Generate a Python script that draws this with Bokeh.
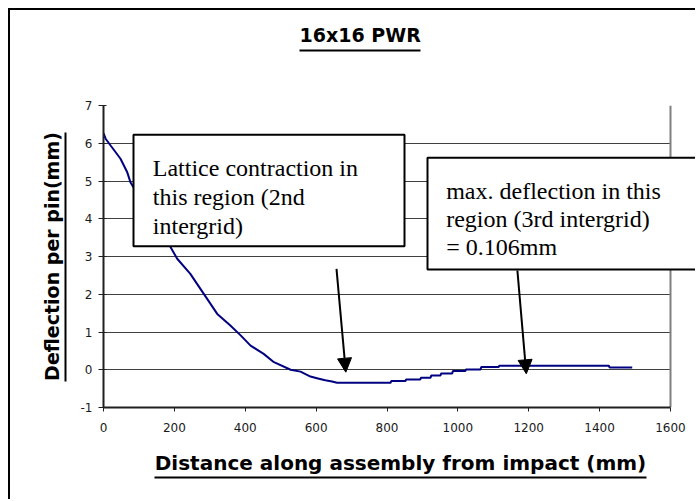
from bokeh.plotting import figure
from bokeh.models import (Range1d, BoxAnnotation, Label, Arrow, NormalHead, FixedTicker,
                          LinearAxis, Grid)
from bokeh.embed import file_html
from bokeh.resources import INLINE

# ---- data ----
distance_mm = [0, 6, 20, 48, 67, 76, 84, 110, 135, 160, 189, 208, 245, 283, 321, 358, 387,
               415, 452, 481, 528, 556, 584, 605, 626, 645, 659,
               810, 812, 852, 854, 894, 896, 923, 925, 951, 953, 984, 986, 1021, 1023,
               1064, 1066, 1115, 1117, 1426, 1428, 1492]
deflection_mm = [6.27, 6.12, 5.94, 5.59, 5.23, 4.97, 4.84, 4.45, 4.05, 3.68, 3.25, 2.94, 2.54,
                 2.01, 1.48, 1.17, 0.91, 0.64, 0.42, 0.20, 0.0, -0.05, -0.18, -0.23, -0.28, -0.31, -0.345,
                 -0.345, -0.30, -0.30, -0.256, -0.256, -0.21, -0.21, -0.15, -0.15, -0.097, -0.097,
                 -0.035, -0.035, 0.009, 0.009, 0.071, 0.071, 0.106, 0.106, 0.06, 0.06]
x_ticks = [0, 200, 400, 600, 800, 1000, 1200, 1400, 1600]
y_ticks = [-1, 0, 1, 2, 3, 4, 5, 6, 7]
grid_ticks = [0, 1, 2, 3, 4, 5, 6]
title_text = "16x16 PWR"
x_label = "Distance along assembly from impact (mm)"
y_label = "Deflection per pin(mm)"
note1 = ["Lattice contraction in", "this region (2nd", "intergrid)"]
note2 = ["max. deflection in this", "region (3rd intergrid)", "= 0.106mm"]

# ---- layout geometry (page pixels) ----
OX, OY = 10, 10             # canvas origin on page (after css margin + border)
W, H = 697 - OX, 501 - OY   # canvas size
FL, FR, FT, FB = 103, 670, 105, 407  # data area (0..1600, -1..7) on page
X0, X1, Y0, Y1 = 0, 1600, -1, 7


def dx(px):
    return X0 + (px - FL) / (FR - FL) * (X1 - X0)


def dy(py):
    return Y1 - (py - FT) / (FB - FT) * (Y1 - Y0)


p = figure(width=W, height=H, output_backend="svg", toolbar_location=None,
           x_range=Range1d(X0, dx(697)), y_range=Range1d(Y0, Y1),
           min_border_left=FL - OX, min_border_right=0,
           min_border_top=FT - OY, min_border_bottom=OY + H - FB)
p.styles = {"margin-left": "8px", "margin-top": "8px",
            "border-left": "2px solid black", "border-top": "2px solid black"}
p.background_fill_color = "white"
p.border_fill_color = "white"
p.outline_line_color = None

p.title.text = title_text
p.title.align = "left"
p.title.offset = 299 - FL
p.title.text_font = "DejaVu Sans"
p.title.text_font_style = "bold"
p.title.text_font_size = "19px"
p.title.text_color = "black"

p.line(distance_mm, deflection_mm, line_color="#000080", line_width=2)

# main axes
for ax in (p.xaxis[0], p.yaxis[0]):
    ax.axis_line_color = "#202020"
    ax.axis_line_width = 2
    ax.major_tick_line_color = "#202020"
    ax.minor_tick_line_color = None
    ax.major_label_text_font = "DejaVu Sans"
    ax.major_label_text_font_size = "12px"
    ax.major_label_text_color = "#1a1a1a"
    ax.axis_label_text_font = "DejaVu Sans"
    ax.axis_label_text_font_style = "bold"
    ax.axis_label_text_color = "black"

p.xaxis.ticker = FixedTicker(ticks=x_ticks)
p.yaxis.ticker = FixedTicker(ticks=y_ticks)
p.xaxis.bounds = (X0, X1)
p.yaxis.bounds = (Y0, Y1)
p.yaxis.major_label_overrides = {-1: "-1"}
p.xaxis.major_tick_out = 4
p.xaxis.major_tick_in = 0
p.yaxis.major_tick_out = 5
p.yaxis.major_tick_in = 3
p.xaxis.major_label_standoff = 11
p.yaxis.major_label_standoff = 6
p.xaxis.axis_label = x_label
p.xaxis.axis_label_text_font_size = "20px"
p.xaxis.axis_label_standoff = 16


def bare_axis(ticks=(), **kw):
    ax = LinearAxis(ticker=FixedTicker(ticks=list(ticks)), major_tick_in=0, minor_tick_in=0,
                    minor_tick_out=0, major_label_standoff=0,
                    major_tick_line_color="white", minor_tick_line_color=None,
                    major_label_text_font_size="0px",
                    major_label_overrides={t: "" for t in ticks})
    for k, v in kw.items():
        setattr(ax, k, v)
    return ax


# left: spacer, then the y label axis whose line is the label's underline
p.add_layout(bare_axis(ticks=[Y1], major_tick_out=12, axis_line_color=None), "left")
ylab = bare_axis(major_tick_out=0, axis_line_color="black", axis_line_width=2,
                 bounds=(dy(380.5), dy(131.5)))
ylab.axis_label = y_label
ylab.axis_label_text_font = "DejaVu Sans"
ylab.axis_label_text_font_style = "bold"
ylab.axis_label_text_font_size = "19px"
ylab.axis_label_text_color = "black"
ylab.axis_label_standoff = 3
p.add_layout(ylab, "left")

# below: underline of the x label
p.add_layout(bare_axis(major_tick_out=0, axis_line_color="black", axis_line_width=2,
                       bounds=(dx(154), dx(646))), "below")

# above: spacer, then the underline of the title
p.add_layout(bare_axis(ticks=[1650], major_tick_out=55, axis_line_color=None), "above")
p.add_layout(bare_axis(major_tick_out=0, axis_line_color="black", axis_line_width=2,
                       bounds=(dx(299), dx(420))), "above")

# grid lines and the plot-area border (top / right)
p.xgrid.grid_line_color = None
p.ygrid.ticker = FixedTicker(ticks=grid_ticks)
p.ygrid.grid_line_color = "#404040"
p.ygrid.grid_line_width = 1
p.ygrid.cross_bounds = (X0, X1)
p.add_layout(Grid(dimension=1, ticker=FixedTicker(ticks=[Y1]), cross_bounds=(X0, X1),
                  grid_line_color="#808080", grid_line_width=2))
p.add_layout(Grid(dimension=0, ticker=FixedTicker(ticks=[X1]), cross_bounds=(Y0, Y1),
                  grid_line_color="#808080", grid_line_width=2))

# note boxes
for l, r, t, b in [(133, 404, 134.3, 245.7), (427, 695.5, 157.3, 269)]:
    p.add_layout(BoxAnnotation(left=dx(l), right=dx(r), top=dy(t), bottom=dy(b),
                               fill_color="white", fill_alpha=1, line_color="black",
                               line_alpha=1, line_width=2))

for i, t in enumerate(note1):
    p.add_layout(Label(x=dx(152.3), y=dy(167.7 + 28.7 * i), text=t, text_baseline="alphabetic",
                       text_font="Liberation Serif", text_font_size="24px", text_color="black"))
for i, t in enumerate(note2):
    p.add_layout(Label(x=dx(445.7), y=dy(190 + 28.3 * i), text=t, text_baseline="alphabetic",
                       text_font="Liberation Serif", text_font_size="24px", text_color="black"))

# arrows
head = dict(size=14, fill_color="black", line_color="black")
p.add_layout(Arrow(x_start=dx(336), y_start=dy(268.3), x_end=dx(345.3), y_end=dy(371.7),
                   end=NormalHead(**head), line_color="black", line_width=2))
p.add_layout(Arrow(x_start=dx(516.9), y_start=dy(270), x_end=dx(525.8), y_end=dy(373.3),
                   end=NormalHead(**head), line_color="black", line_width=2))

open("out.html", "w").write(file_html(p, INLINE))
